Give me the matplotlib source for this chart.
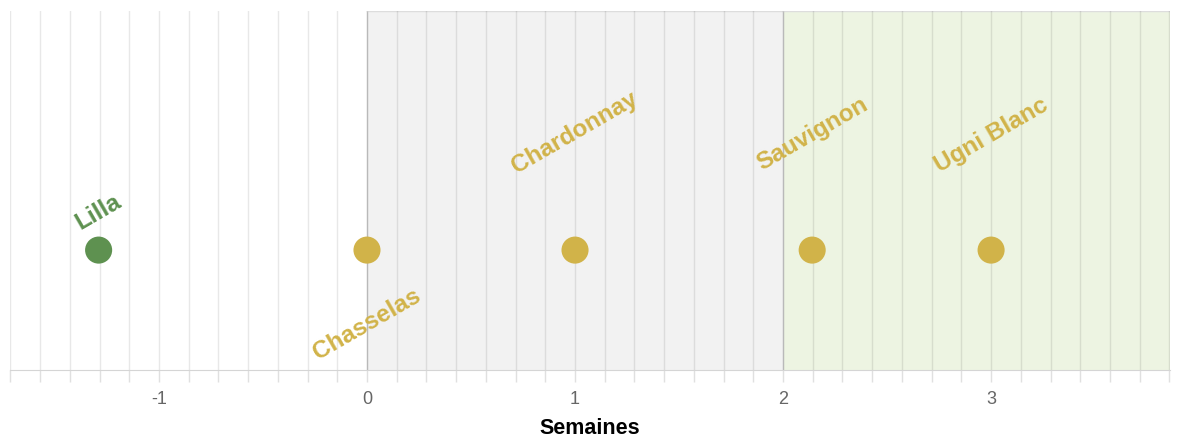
import matplotlib
matplotlib.use("Agg")
from matplotlib import pyplot as plt
import numpy as np

plt.rcParams["font.family"] = ["Liberation Sans", "DejaVu Sans"]

# data (x in weeks)
varieties = ["Lilla", "Chasselas", "Chardonnay", "Sauvignon", "Ugni Blanc"]
weeks = [-1.29, 0.0, 1.0, 2.14, 3.0]
label_dy = [39, -73, 118, 117, 116]  # label offset in pixels
point_colors = ["#5e9150", "#d1b349", "#d1b349", "#d1b349", "#d1b349"]

bands = [(0, 2, "#f2f2f2"), (2, 3.86, "#edf4e2")]
x_min, x_max = -1.716, 3.86
tick_weeks = [-1, 0, 1, 2, 3]

fig = plt.figure(figsize=(11.8, 4.39), dpi=100)
ax = fig.add_axes([10 / 1180, 1 - 371 / 439, 1160 / 1180, 359 / 439])
ax.set_xlim(x_min, x_max)
ax.set_ylim(0, 1)

for x0, x1, c in bands:
    ax.axvspan(x0, x1, color=c, zorder=0, lw=0)
    ax.plot([x0, x0], [0, 1], color="#cccccc", lw=1, zorder=1)
    ax.plot([x0, x1], [1, 1], color="#dddddd", lw=1, zorder=1)

# daily grid lines
days = np.arange(np.ceil(x_min * 7), np.floor(x_max * 7) + 1) / 7
for d in days:
    ax.axvline(d, color="black", alpha=0.09, lw=1, zorder=1)

ax.set_xticks(days, minor=True)
ax.set_xticks(tick_weeks)
ax.set_xticklabels([str(t) for t in tick_weeks])
ax.tick_params(axis="x", which="both", length=8.5, width=1, color="#e0e0e0",
               labelcolor="#666666", labelsize=13, pad=6)
ax.set_yticks([])
for s in ["top", "left", "right"]:
    ax.spines[s].set_visible(False)
ax.spines["bottom"].set_color("#d5d5d5")

y = 0.334
ax.scatter(weeks, [y] * len(weeks), s=380, c=point_colors, zorder=3, linewidths=0)
for name, x, dy, c in zip(varieties, weeks, label_dy, point_colors):
    ax.annotate(name, (x, y), xytext=(0, dy), textcoords="offset pixels",
                ha="center", va="center", rotation=30, rotation_mode="anchor",
                fontsize=17.5, fontweight="bold", color=c, zorder=4)

ax.set_xlabel("Semaines", fontsize=15.5, fontweight="bold", color="black", labelpad=7)

fig.savefig("out.png", dpi=100)
